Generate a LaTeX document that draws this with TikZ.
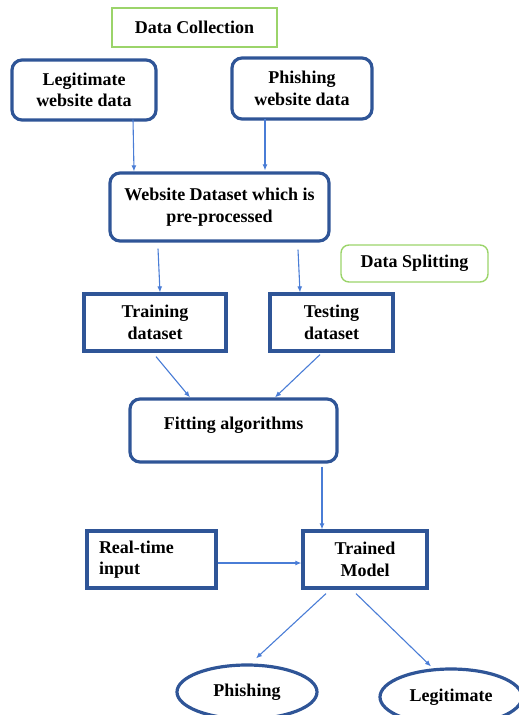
\documentclass[tikz,border=0pt]{standalone}
\usepackage{fontspec}
\setmainfont{Liberation Serif}
\usetikzlibrary{arrows.meta,shapes.geometric,calc}
\definecolor{boxblue}{HTML}{2F5597}
\definecolor{arrblue}{HTML}{4A7DD6}
\definecolor{lgreen}{HTML}{9BD46A}
\begin{document}
\begin{tikzpicture}[x=1pt,y=1pt,
  txt/.style={font=\fontsize{18}{21.5}\selectfont\bfseries, align=center},
  rbox/.style={txt, draw=boxblue, line width=3.2pt, rounded corners=10pt, inner sep=0pt},
  sbox/.style={txt, draw=boxblue, line width=3.2pt, inner sep=0pt},
  gbox/.style={txt, draw=lgreen, line width=1.4pt, inner sep=0pt},
  ebox/.style={txt, draw=boxblue, line width=3.2pt, ellipse, inner sep=0pt},
  arr/.style={draw=arrblue, line width=1.1pt, -{Latex[length=6pt,width=5pt]}}]
\useasboundingbox (0,0) rectangle (519,-715);
\clip (0,0) rectangle (519,-715);
\node[gbox, minimum width=165, minimum height=39] (dc) at (194.5,-27.5) {Data Collection};
\node[rbox, minimum width=144, minimum height=60] (leg) at (84,-90) {Legitimate\\website data};
\node[rbox, minimum width=140, minimum height=61] (phd) at (302,-88.5) {Phishing\\website data};
\node[rbox, minimum width=219, minimum height=68] (ds) at (219.5,-207) {Website Dataset which is\\pre-processed};
\node[gbox, rounded corners=8pt, minimum width=147, minimum height=37] (dsp) at (414.5,-263.5) {Data Splitting};
\node[sbox, minimum width=142, minimum height=57] (tr) at (155,-322.5) {Training\\dataset};
\node[sbox, minimum width=123, minimum height=57] (te) at (331.5,-322.5) {Testing\\dataset};
\node[rbox, minimum width=207, minimum height=63] (fit) at (233.5,-430.5) {};
\node[txt] (fittxt) at ([yshift=5]fit.center) {Fitting algorithms};
\node[sbox, minimum width=129, minimum height=57, text width=105, align=left] (rt) at (151.5,-559.5) {Real-time\\input};
\node[sbox, minimum width=124, minimum height=57] (tm) at (365,-559.5) {Trained\\Model};
\node[ebox, minimum width=140, minimum height=54] (ph) at (247,-692) {Phishing};
\node[ebox, minimum width=142, minimum height=56] (lg) at (451,-697) {Legitimate};
\draw[arr] ([xshift=49,yshift=2]leg.south) -- ([xshift=-85.5]ds.north);
\draw[arr] ([xshift=-37,yshift=2]phd.south) -- ([xshift=45.5,yshift=1]ds.north);
\draw[arr] ([xshift=-61.5,yshift=-6]ds.south) -- ([xshift=5]tr.north);
\draw[arr] ([xshift=78.5,yshift=-7]ds.south) -- ([xshift=-31.5]te.north);
\draw[arr] ([xshift=1,yshift=-4]tr.south) -- ([xshift=-43.5]fit.north);
\draw[arr] ([xshift=-11.5,yshift=-2]te.south) -- ([xshift=41.5]fit.north);
\draw[arr] ([xshift=88.5,yshift=-3]fit.south) -- ([xshift=-43]tm.north);
\draw[arr] ([yshift=-3.5]rt.east) -- ([yshift=-3.5]tm.west);
\draw[arr] ([xshift=-39,yshift=-4]tm.south) -- ([xshift=9,yshift=5]ph.north);
\draw[arr] ([xshift=-9,yshift=-4]tm.south) -- ([xshift=-20,yshift=1]lg.north);
\end{tikzpicture}
\end{document}
